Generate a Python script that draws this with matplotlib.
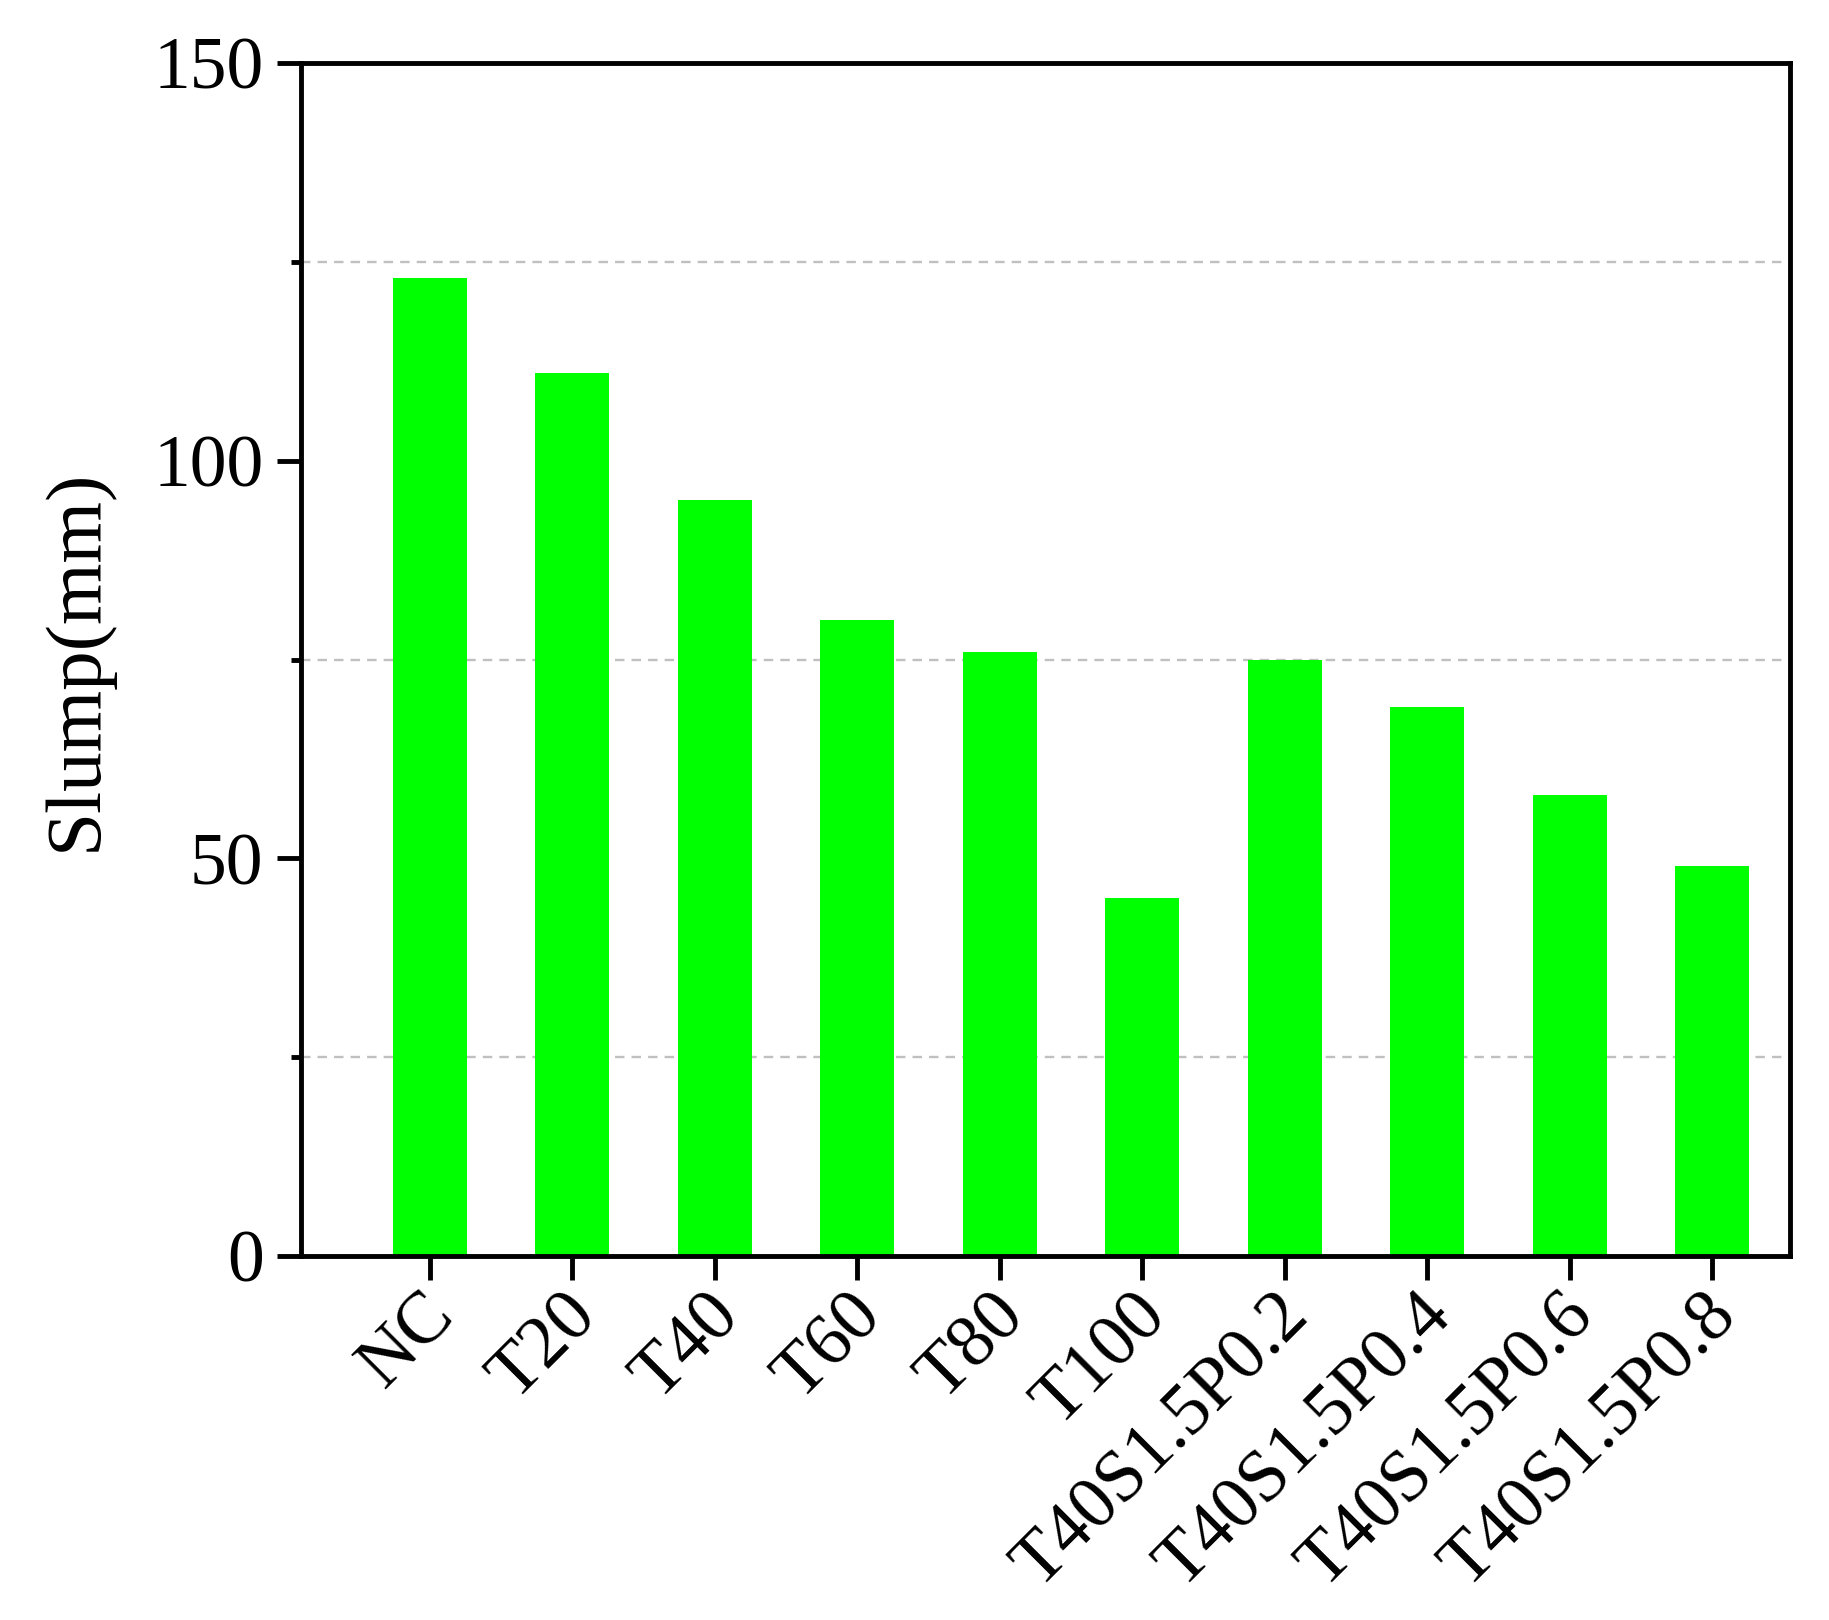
import matplotlib
matplotlib.use("Agg")
import matplotlib.pyplot as plt
from matplotlib.transforms import ScaledTranslation

categories = ["NC", "T20", "T40", "T60", "T80", "T100",
              "T40S1.5P0.2", "T40S1.5P0.4", "T40S1.5P0.6", "T40S1.5P0.8"]
slump = [123, 111, 95, 80, 76, 45, 75, 69, 58, 49]
y_ticks = [0, 50, 100, 150]
y_minor = [25, 75, 125]

plt.rcParams['font.family'] = ['Liberation Serif', 'DejaVu Serif']

W, H = 1829, 1620
fig = plt.figure(figsize=(W / 100, H / 100), dpi=100)
left, right, top, bottom = 301, 1790, 63, 1256
ax = fig.add_axes([left / W, 1 - bottom / H, (right - left) / W, (bottom - top) / H])

x = list(range(1, len(categories) + 1))
ax.bar(x, slump, width=0.52, color='#00ff00', edgecolor='none', zorder=2)

ax.set_xlim(0.095, 10.545)
ax.set_ylim(0, 150)
ax.set_yticks(y_ticks)
ax.set_yticks(y_minor, minor=True)
ax.set_xticks(x)
ax.set_xticklabels(categories, rotation=45, ha='right', va='top',
                   rotation_mode='anchor')

ax.set_axisbelow(True)
ax.grid(axis='y', which='minor', color='#c0c0c0', linewidth=1.7,
        linestyle=(0, (4, 3)))

for s in ax.spines.values():
    s.set_linewidth(3.5)
ax.tick_params(axis='both', which='major', direction='out', length=17,
               width=3.5, labelsize=53, pad=10)
ax.tick_params(axis='y', which='minor', direction='out', length=7,
               width=3.5)
ax.tick_params(axis='x', which='minor', length=0)
ax.tick_params(axis='x', which='major', pad=0)
ax.tick_params(top=False, right=False)

offset = ScaledTranslation(-0.097, -0.016, fig.dpi_scale_trans)
for lab in ax.get_xticklabels():
    lab.set_transform(lab.get_transform() + offset)

ax.set_ylabel('Slump(mm)', fontsize=57, va='center')
ax.yaxis.set_label_coords((77 - left) / (right - left), 0.5)

fig.savefig('out.png', dpi=100)
